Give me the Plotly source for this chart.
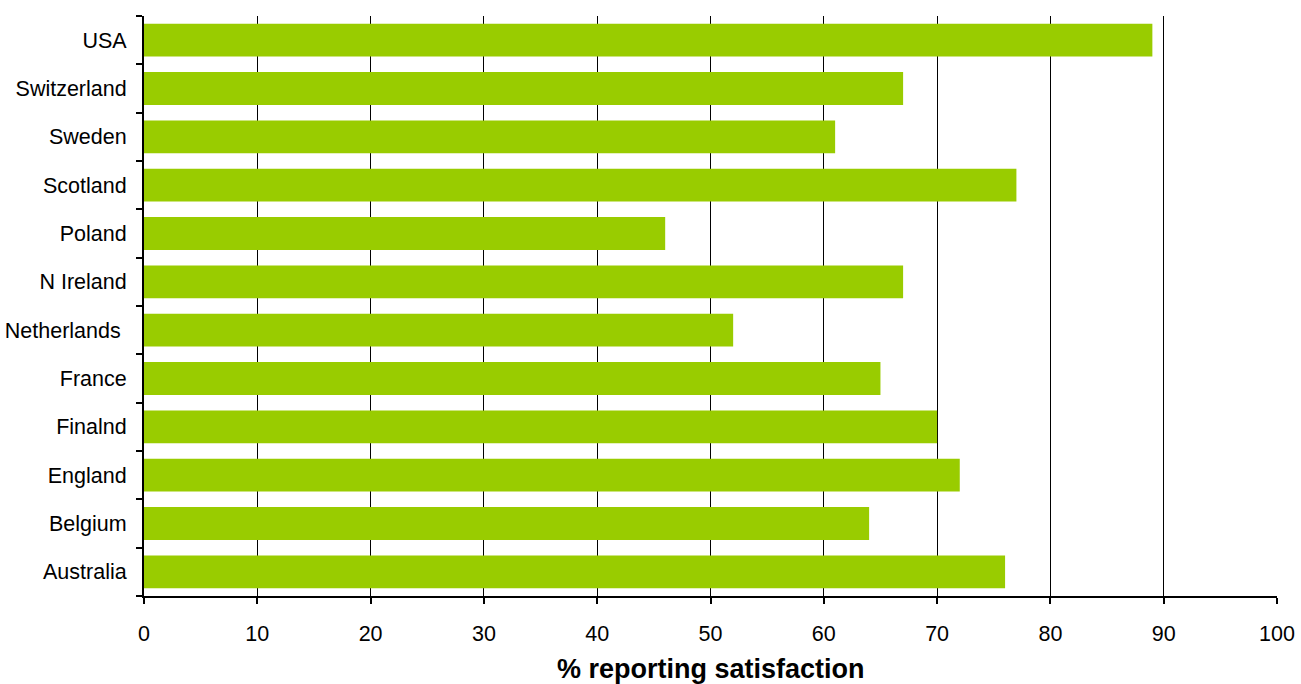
import plotly.graph_objects as go

countries = ["Australia", "Belgium", "England", "Finalnd", "France", "Netherlands ",
             "N Ireland", "Poland", "Scotland", "Sweden", "Switzerland", "USA"]
satisfaction = [76, 64, 72, 70, 65, 52, 67, 46, 77, 61, 67, 89]
x_ticks = [0, 10, 20, 30, 40, 50, 60, 70, 80, 90, 100]
x_title = "% reporting satisfaction"

FONT = "Liberation Sans, Arial, sans-serif"

fig = go.Figure(go.Bar(
    x=satisfaction, y=countries, orientation="h",
    marker=dict(color="#99CC00", line=dict(width=0)),
))

fig.update_layout(
    width=1301, height=684,
    margin=dict(l=144, r=24, t=16, b=88),
    plot_bgcolor="white", paper_bgcolor="white",
    bargap=0.32,
    showlegend=False,
    font=dict(family=FONT, color="black", size=21.5),
    annotations=[dict(
        text=f"<b>{x_title}</b>", xref="paper", yref="paper",
        x=0.5, y=-0.1255, xanchor="center", yanchor="middle",
        showarrow=False, font=dict(size=27, family=FONT, color="black"),
    )],
)
fig.update_xaxes(
    range=[0, 100], tickvals=x_ticks,
    automargin=False,
    showgrid=True, gridcolor="black", gridwidth=1,
    showline=True, linecolor="black", linewidth=2,
    ticks="outside", ticklen=6, tickwidth=2, tickcolor="black",
    tickfont=dict(size=21.5, family=FONT),
    ticklabelstandoff=11,
    zeroline=False,
)
fig.update_yaxes(
    type="category",
    automargin=False,
    showgrid=False,
    showline=True, linecolor="black", linewidth=2,
    ticks="outside", ticklen=6, tickwidth=2, tickcolor="black",
    tickson="boundaries",
    tickfont=dict(size=21.5, family=FONT),
    ticklabelstandoff=11,
)

fig.write_html("out.html")
